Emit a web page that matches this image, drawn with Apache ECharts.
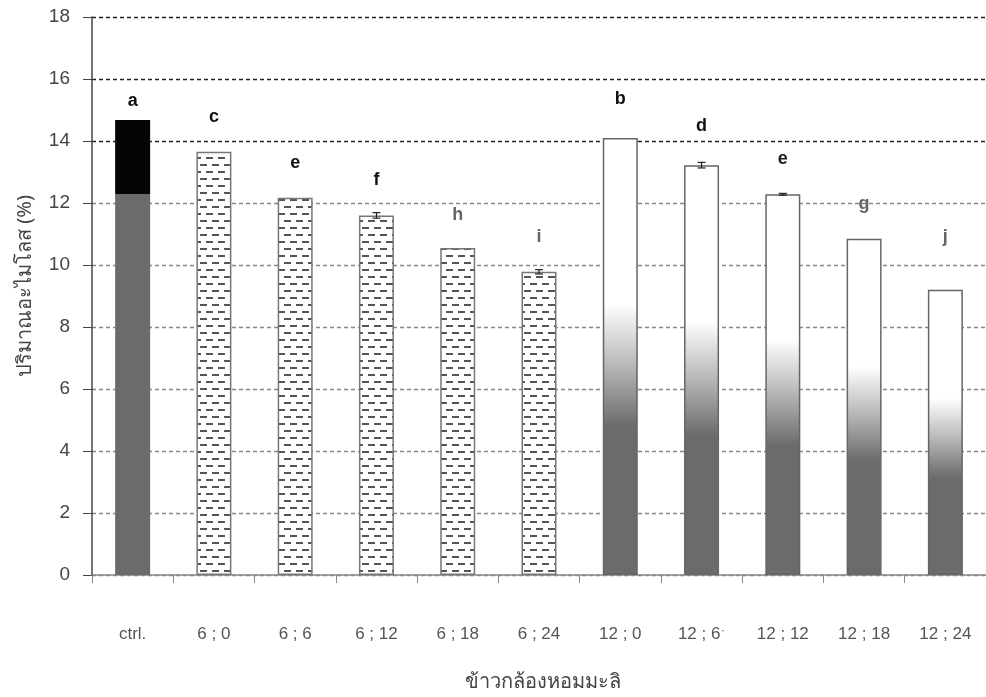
<!DOCTYPE html>
<html><head><meta charset="utf-8">
<script src="https://cdn.jsdelivr.net/npm/echarts@6/dist/echarts.min.js"></script>
<style>html,body{margin:0;padding:0;background:#fff}#c{width:986px;height:697px}</style>
</head><body><div id="c"></div>
<script>
const categories = ['ctrl.', '6 ; 0', '6 ; 6', '6 ; 12', '6 ; 18', '6 ; 24', '12 ; 0', '12 ; 6\u02D1', '12 ; 12', '12 ; 18', '12 ; 24'];
const amylose = [14.68, 13.65, 12.17, 11.6, 10.55, 9.78, 14.1, 13.22, 12.28, 10.85, 9.2];
const errors = [0, 0, 0, 0.09, 0, 0.07, 0, 0.09, 0.03, 0, 0];
const letters = ['a', 'c', 'e', 'f', 'h', 'i', 'b', 'd', 'e', 'g', 'j'];
const groups = ['ctrl', 'p', 'p', 'p', 'p', 'p', 'w', 'w', 'w', 'w', 'w'];
const yTicks = [0, 2, 4, 6, 8, 10, 12, 14, 16, 18];
const xTitle = 'ข้าวกล้องหอมมะลิ';
const yTitle = 'ปริมาณอะไมโลส (%)';

// dash pattern
const pc = document.createElement('canvas');
pc.width = 12; pc.height = 14;
const g = pc.getContext('2d');
g.fillStyle = '#fff'; g.fillRect(0, 0, 12, 14);
g.fillStyle = '#555';
g.fillRect(2, 3, 7, 2);
g.fillRect(8, 10, 4, 2); g.fillRect(0, 10, 3, 2);

const labelDist = [10, 26, 26, 26, 24, 26, 30, 30, 26, 26, 44];
const labelColor = ['#111', '#111', '#111', '#111', '#666', '#666', '#111', '#111', '#222', '#666', '#666'];

const data = amylose.map((v, i) => {
  let style;
  if (groups[i] === 'ctrl') {
    const cut = (v - 12.3) / v;
    style = { color: { type: 'linear', x: 0, y: 0, x2: 0, y2: 1, colorStops: [
      { offset: 0, color: '#050505' }, { offset: cut, color: '#050505' },
      { offset: cut, color: '#6b6b6b' }, { offset: 1, color: '#6b6b6b' }] }, borderWidth: 0 };
  } else if (groups[i] === 'p') {
    style = { color: { image: pc, repeat: 'repeat' }, borderColor: '#777', borderWidth: 1.5 };
  } else {
    style = { color: { type: 'linear', x: 0, y: 0, x2: 0, y2: 1, colorStops: [
      { offset: 0, color: '#ffffff' }, { offset: 0.38, color: '#ffffff' },
      { offset: 0.52, color: '#b8b8b8' }, { offset: 0.66, color: '#6b6b6b' }, { offset: 1, color: '#6b6b6b' }] },
      borderColor: '#666', borderWidth: 1.5 };
  }
  return { value: v, itemStyle: style,
    label: { show: true, position: 'top', distance: labelDist[i], formatter: letters[i],
      color: labelColor[i], fontSize: 18, fontWeight: 'bold', fontFamily: 'Liberation Sans, Arial' } };
});

const chart = echarts.init(document.getElementById('c'), null, { renderer: 'canvas' });
chart.setOption({
  animation: false,
  backgroundColor: '#fff',
  grid: { left: 92, right: 0, top: 17, bottom: 122, containLabel: false },
  xAxis: {
    type: 'category', data: categories,
    axisLine: { lineStyle: { color: '#888', width: 1.5 } },
    axisTick: { show: true, length: 8, lineStyle: { color: '#888' } },
    axisLabel: { margin: 51, color: '#555', fontSize: 17, fontFamily: 'Liberation Sans, Arial' }
  },
  yAxis: {
    type: 'value', min: 0, max: 18, interval: 2,
    axisLine: { show: true, lineStyle: { color: '#444', width: 1.5 } },
    axisTick: { show: true, length: 9, lineStyle: { color: '#444' } },
    axisLabel: { margin: 22, color: '#444', fontSize: 19, fontFamily: 'Liberation Sans, Arial',
      formatter: v => yTicks.includes(v) ? String(v) : '' },
    splitLine: { show: true, lineStyle: { type: [4, 3], width: 1.3,
      color: ['#888', '#888', '#888', '#888', '#888', '#888', '#888', '#222', '#222', '#222'] } }
  },
  graphic: [
    { type: 'text', x: 465, y: 682, style: { text: xTitle, fill: '#444', fontSize: 20, fontFamily: 'Noto Sans, sans-serif',
      align: 'left', verticalAlign: 'middle' } },
    { type: 'text', x: 25, y: 286, rotation: Math.PI / 2, style: { text: yTitle, fill: '#444', fontSize: 20,
      fontFamily: 'Noto Sans, sans-serif', align: 'center', verticalAlign: 'middle' } }
  ],
  series: [
    { type: 'bar', data: data, barWidth: 35 },
    { type: 'custom', z: 5, data: amylose.map((v, i) => [i, v, errors[i]]),
      renderItem: function (params, api) {
        const i = api.value(0), v = api.value(1), e = api.value(2);
        if (!e) return;
        const hi = api.coord([i, v + e]), lo = api.coord([i, v - e]);
        const w = 4;
        return { type: 'group', children: [
          { type: 'line', shape: { x1: hi[0], y1: hi[1], x2: lo[0], y2: lo[1] }, style: { stroke: '#222', lineWidth: 1.2 } },
          { type: 'line', shape: { x1: hi[0] - w, y1: hi[1], x2: hi[0] + w, y2: hi[1] }, style: { stroke: '#222', lineWidth: 1.2 } },
          { type: 'line', shape: { x1: lo[0] - w, y1: lo[1], x2: lo[0] + w, y2: lo[1] }, style: { stroke: '#222', lineWidth: 1.2 } }
        ] };
      } }
  ]
});
</script></body></html>
